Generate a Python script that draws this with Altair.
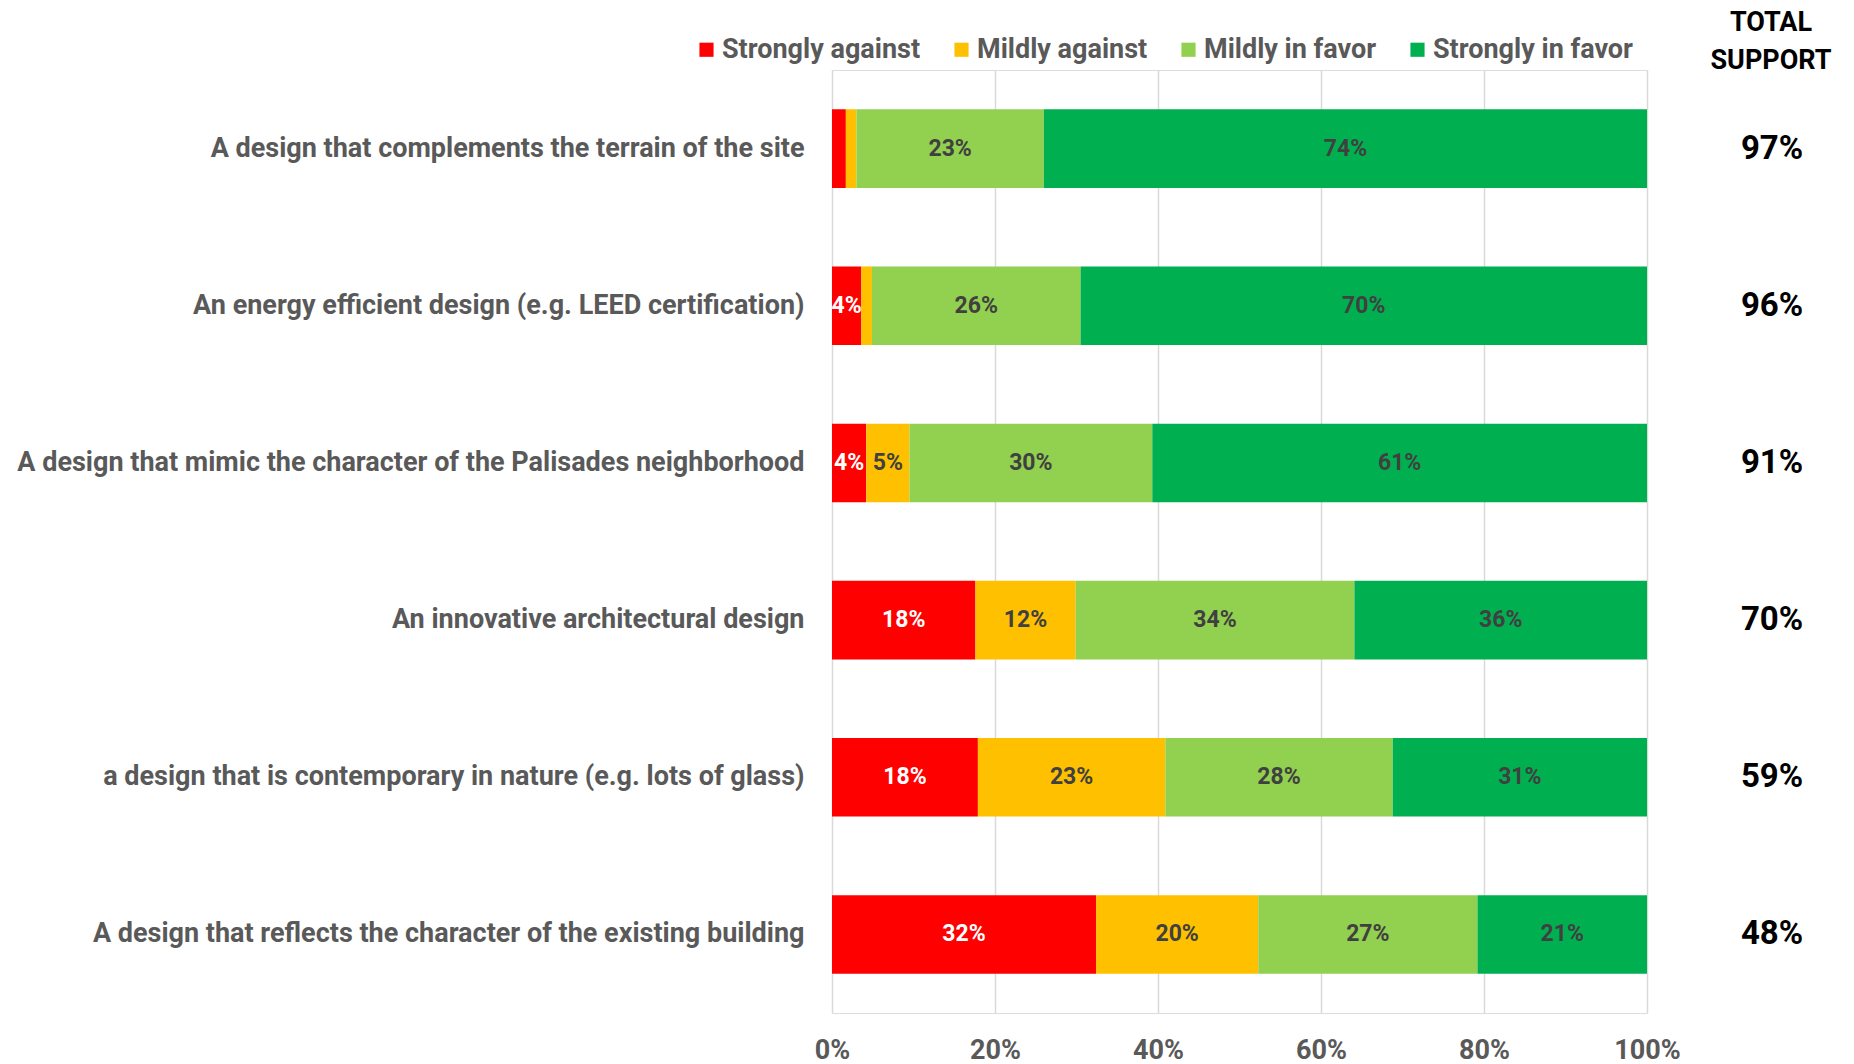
import altair as alt
import pandas as pd

items = [
    "A design that complements the terrain of the site",
    "An energy efficient design (e.g. LEED certification)",
    "A design that mimic the character of the Palisades neighborhood",
    "An innovative architectural design",
    "a design that  is contemporary in nature (e.g. lots of glass)",
    "A design that reflects the character of the existing building",
]
series = ["Strongly against", "Mildly against", "Mildly in favor", "Strongly in favor"]
colors = ["#FF0000", "#FFC000", "#92D050", "#00B050"]

strongly_against = [1.7, 3.6, 4.2, 17.6, 17.9, 32.4]
mildly_against = [1.3, 1.3, 5.3, 12.3, 23.0, 19.9]
mildly_in_favor = [23.0, 25.6, 29.8, 34.2, 27.9, 26.9]
strongly_in_favor = [74.0, 69.5, 60.7, 35.9, 31.2, 20.8]

labels_strongly_against = ["", "4%", "4%", "18%", "18%", "32%"]
labels_mildly_against = ["", "", "5%", "12%", "23%", "20%"]
labels_mildly_in_favor = ["23%", "26%", "30%", "34%", "28%", "27%"]
labels_strongly_in_favor = ["74%", "70%", "61%", "36%", "31%", "21%"]

total_support = ["97%", "96%", "91%", "70%", "59%", "48%"]

values = [strongly_against, mildly_against, mildly_in_favor, strongly_in_favor]
labels = [labels_strongly_against, labels_mildly_against, labels_mildly_in_favor, labels_strongly_in_favor]

rows = []
for si, s in enumerate(series):
    for ii, it in enumerate(items):
        rows.append({"item": it, "series": s, "order": si,
                     "value": values[si][ii] / 100.0, "label": labels[si][ii]})
df = pd.DataFrame(rows)
df_tot = pd.DataFrame({"item": items, "total": total_support})
df_head = pd.DataFrame({"t": ["TOTAL\nSUPPORT"]})

W, H = 815, 943

yenc = alt.Y("item:N", sort=items, title=None,
             scale=alt.Scale(paddingInner=0.5, paddingOuter=0.25),
             axis=alt.Axis(labelFontSize=27, labelColor="#595959", labelFontWeight="bold",
                           labelPadding=28, ticks=False, domain=False, labelLimit=1000))

base = alt.Chart(df).transform_stack(
    stack="value", as_=["x0", "x1"], groupby=["item"], sort=[alt.SortField("order")]
).transform_calculate(mid="(datum.x0 + datum.x1) / 2")

bars = base.mark_bar().encode(
    y=yenc,
    x=alt.X("x0:Q", title=None, scale=alt.Scale(domain=[0, 1], nice=False),
            axis=alt.Axis(values=[0, 0.2, 0.4, 0.6, 0.8, 1.0], format=".0%", grid=True,
                          gridColor="#d9d9d9", gridWidth=1.5, domain=False, ticks=False,
                          labelFontSize=27, labelColor="#595959", labelFontWeight="bold",
                          labelPadding=24, labelFlush=False)),
    x2="x1:Q",
    color=alt.Color("series:N", sort=series,
                    scale=alt.Scale(domain=series, range=colors),
                    legend=alt.Legend(orient="none", legendX=-139, legendY=-34,
                                      direction="horizontal", title=None,
                                      symbolType="square", symbolSize=200,
                                      symbolStrokeWidth=0, labelFontSize=27,
                                      labelColor="#595959", labelFontWeight="bold",
                                      columnPadding=27, labelOffset=2, labelLimit=1000)),
)

seg_text = base.transform_filter("datum.label != ''").mark_text(
    fontSize=23, fontWeight="bold", baseline="middle", align="center"
).encode(
    y=alt.Y("item:N", sort=items),
    x=alt.X("mid:Q"),
    text="label:N",
    color=alt.condition(alt.datum.series == "Strongly against",
                        alt.value("white"), alt.value("#404040")),
)

tot_text = alt.Chart(df_tot).mark_text(
    fontSize=33, fontWeight="bold", color="black", align="center", baseline="middle"
).encode(
    y=alt.Y("item:N", sort=items),
    x=alt.value(940),
    text="total:N",
)

head_text = alt.Chart(df_head).mark_text(
    fontSize=27, fontWeight="bold", color="black", align="center", baseline="middle",
    lineBreak="\n", lineHeight=38
).encode(
    x=alt.value(939),
    y=alt.value(-47),
    text="t:N",
)

chart = alt.layer(bars, seg_text, tot_text, head_text).properties(
    width=W, height=H,
    autosize=alt.AutoSizeParams(type="none"),
    padding={"left": 824, "top": 62, "right": 199, "bottom": 50},
).configure_view(strokeWidth=0).configure(font="Roboto")

chart.save("out.html", embed_options={"renderer": "svg", "actions": False})
